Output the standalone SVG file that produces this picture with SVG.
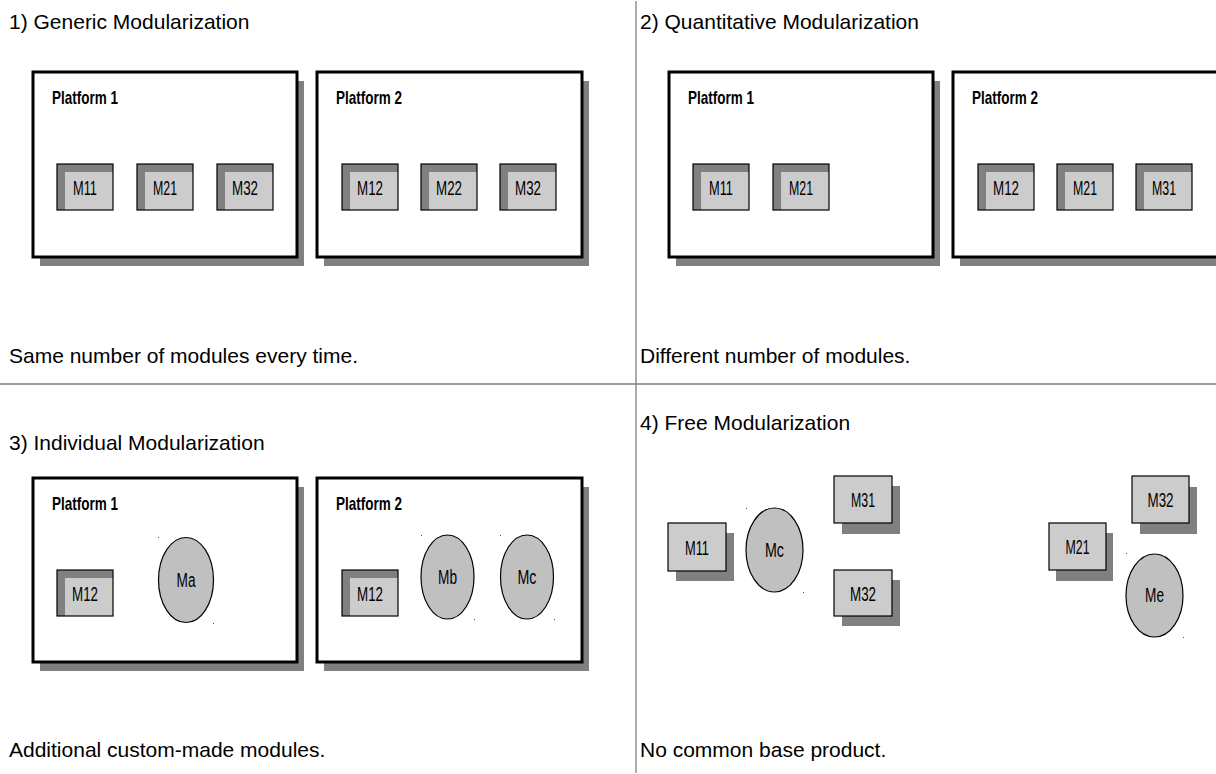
<svg xmlns="http://www.w3.org/2000/svg" width="1216" height="774" viewBox="0 0 1216 774">
  <style>
    .title { font-family: "Liberation Sans", Arial, sans-serif; font-size: 21px; fill: #000; }
    .plabel { font-family: "Liberation Sans", Arial, sans-serif; font-size: 19px; font-weight: bold; fill: #000; }
    .mlabel { font-family: "Liberation Sans", Arial, sans-serif; font-size: 20px; fill: #000; text-anchor: middle; }
    .divider { stroke: #808080; stroke-width: 1.3; fill: none; }
    .pbox { fill: #fff; stroke: #000; stroke-width: 3; }
    .shadow { fill: #808080; stroke: none; }
    .mdark { fill: #808080; stroke: none; }
    .mlight { fill: #cccccc; stroke: none; }
    .mline { fill: none; stroke: #000; stroke-width: 1.2; }
    .fbox { fill: #cccccc; stroke: #000; stroke-width: 1.2; }
    .ell { fill: #c0c0c0; stroke: #000; stroke-width: 1.2; }
    .dot { fill: #555; }
  </style>
  <defs>
    <!-- module embedded in a platform: dark frame with light face -->
    <g id="mod">
      <rect class="mdark" x="0" y="0" width="56" height="46"/>
      <rect class="mlight" x="8" y="8" width="48" height="38"/>
      <rect class="mline" x="0" y="0" width="56" height="46"/>
    </g>
  </defs>

  <rect x="0" y="0" width="1216" height="774" fill="#fff"/>

  <!-- quadrant dividers -->
  <g id="dividers">
    <line class="divider" x1="636" y1="1" x2="636" y2="773"/>
    <line class="divider" x1="0" y1="384" x2="1216" y2="384"/>
  </g>

  <!-- headings and captions -->
  <g id="texts">
    <text class="title" x="9" y="29">1) Generic Modularization</text>
    <text class="title" x="640" y="29">2) Quantitative Modularization</text>
    <text class="title" x="9" y="450">3) Individual Modularization</text>
    <text class="title" x="640" y="430">4) Free Modularization</text>
    <text class="title" x="9" y="363">Same number of modules every time.</text>
    <text class="title" x="640" y="363">Different number of modules.</text>
    <text class="title" x="9" y="757">Additional custom-made modules.</text>
    <text class="title" x="640" y="757">No common base product.</text>
  </g>

  <!-- 1) generic -->
  <g id="g1-platform1">
    <rect class="shadow" x="40" y="81" width="264" height="185"/>
    <rect class="pbox" x="33" y="72" width="264" height="185"/>
    <text class="plabel" x="52" y="104" textLength="66" lengthAdjust="spacingAndGlyphs">Platform 1</text>
    <use href="#mod" x="57" y="164"/><text class="mlabel" x="85" y="195" textLength="24" lengthAdjust="spacingAndGlyphs">M11</text>
    <use href="#mod" x="137" y="164"/><text class="mlabel" x="165" y="195" textLength="24" lengthAdjust="spacingAndGlyphs">M21</text>
    <use href="#mod" x="217" y="164"/><text class="mlabel" x="245" y="195" textLength="26" lengthAdjust="spacingAndGlyphs">M32</text>
  </g>
  <g id="g1-platform2">
    <rect class="shadow" x="324" y="81" width="265" height="185"/>
    <rect class="pbox" x="317" y="72" width="265" height="185"/>
    <text class="plabel" x="336" y="104" textLength="66" lengthAdjust="spacingAndGlyphs">Platform 2</text>
    <use href="#mod" x="342" y="164"/><text class="mlabel" x="370" y="195" textLength="26" lengthAdjust="spacingAndGlyphs">M12</text>
    <use href="#mod" x="421" y="164"/><text class="mlabel" x="449" y="195" textLength="26" lengthAdjust="spacingAndGlyphs">M22</text>
    <use href="#mod" x="500" y="164"/><text class="mlabel" x="528" y="195" textLength="26" lengthAdjust="spacingAndGlyphs">M32</text>
  </g>

  <!-- 2) quantitative -->
  <g id="g2-platform1">
    <rect class="shadow" x="676" y="81" width="264" height="185"/>
    <rect class="pbox" x="669" y="72" width="264" height="185"/>
    <text class="plabel" x="688" y="104" textLength="66" lengthAdjust="spacingAndGlyphs">Platform 1</text>
    <use href="#mod" x="693" y="164"/><text class="mlabel" x="721" y="195" textLength="24" lengthAdjust="spacingAndGlyphs">M11</text>
    <use href="#mod" x="773" y="164"/><text class="mlabel" x="801" y="195" textLength="24" lengthAdjust="spacingAndGlyphs">M21</text>
  </g>
  <g id="g2-platform2">
    <rect class="shadow" x="960" y="81" width="265" height="185"/>
    <rect class="pbox" x="953" y="72" width="265" height="185"/>
    <text class="plabel" x="972" y="104" textLength="66" lengthAdjust="spacingAndGlyphs">Platform 2</text>
    <use href="#mod" x="978" y="164"/><text class="mlabel" x="1006" y="195" textLength="26" lengthAdjust="spacingAndGlyphs">M12</text>
    <use href="#mod" x="1057" y="164"/><text class="mlabel" x="1085" y="195" textLength="24" lengthAdjust="spacingAndGlyphs">M21</text>
    <use href="#mod" x="1136" y="164"/><text class="mlabel" x="1164" y="195" textLength="24" lengthAdjust="spacingAndGlyphs">M31</text>
  </g>

  <!-- 3) individual -->
  <g id="g3-platform1">
    <rect class="shadow" x="40" y="487" width="264" height="184"/>
    <rect class="pbox" x="33" y="478" width="264" height="184"/>
    <text class="plabel" x="52" y="510" textLength="66" lengthAdjust="spacingAndGlyphs">Platform 1</text>
    <use href="#mod" x="57" y="570"/><text class="mlabel" x="85" y="601" textLength="26" lengthAdjust="spacingAndGlyphs">M12</text>
    <ellipse class="ell" cx="186" cy="580" rx="27.5" ry="42.5"/>
    <text class="mlabel" x="186" y="587" textLength="19" lengthAdjust="spacingAndGlyphs">Ma</text>
    <rect class="dot" x="158" y="537" width="1" height="1"/>
    <rect class="dot" x="213" y="623" width="1" height="1"/>
  </g>
  <g id="g3-platform2">
    <rect class="shadow" x="324" y="487" width="265" height="184"/>
    <rect class="pbox" x="317" y="478" width="265" height="184"/>
    <text class="plabel" x="336" y="510" textLength="66" lengthAdjust="spacingAndGlyphs">Platform 2</text>
    <use href="#mod" x="342" y="570"/><text class="mlabel" x="370" y="601" textLength="26" lengthAdjust="spacingAndGlyphs">M12</text>
    <ellipse class="ell" cx="447.5" cy="577" rx="26.5" ry="42"/>
    <text class="mlabel" x="447.5" y="584" textLength="19" lengthAdjust="spacingAndGlyphs">Mb</text>
    <ellipse class="ell" cx="527" cy="577" rx="26.5" ry="42"/>
    <text class="mlabel" x="527" y="584" textLength="19" lengthAdjust="spacingAndGlyphs">Mc</text>
    <rect class="dot" x="421" y="535" width="1" height="1"/>
    <rect class="dot" x="474" y="619" width="1" height="1"/>
    <rect class="dot" x="500" y="535" width="1" height="1"/>
    <rect class="dot" x="554" y="619" width="1" height="1"/>
  </g>

  <!-- 4) free -->
  <g id="g4-m11">
    <rect class="shadow" x="676" y="533" width="58" height="48"/>
    <rect class="fbox" x="668" y="523" width="58" height="48"/>
    <text class="mlabel" x="697" y="555" textLength="24" lengthAdjust="spacingAndGlyphs">M11</text>
  </g>
  <g id="g4-mc">
    <ellipse class="ell" cx="774.5" cy="550" rx="28.5" ry="42"/>
    <text class="mlabel" x="774.5" y="557" textLength="19" lengthAdjust="spacingAndGlyphs">Mc</text>
    <rect class="dot" x="746" y="508" width="1" height="1"/>
    <rect class="dot" x="803" y="592" width="1" height="1"/>
  </g>
  <g id="g4-m31">
    <rect class="shadow" x="842" y="486" width="58" height="48"/>
    <rect class="fbox" x="834" y="476" width="58" height="47"/>
    <text class="mlabel" x="863" y="507" textLength="24" lengthAdjust="spacingAndGlyphs">M31</text>
  </g>
  <g id="g4-m32a">
    <rect class="shadow" x="842" y="580" width="58" height="46"/>
    <rect class="fbox" x="834" y="570" width="58" height="46"/>
    <text class="mlabel" x="863" y="601" textLength="26" lengthAdjust="spacingAndGlyphs">M32</text>
  </g>
  <g id="g4-m21">
    <rect class="shadow" x="1056" y="533" width="57" height="48"/>
    <rect class="fbox" x="1049" y="523" width="57" height="47"/>
    <text class="mlabel" x="1077.5" y="554" textLength="24" lengthAdjust="spacingAndGlyphs">M21</text>
  </g>
  <g id="g4-m32b">
    <rect class="shadow" x="1140" y="487" width="57" height="47"/>
    <rect class="fbox" x="1132" y="476" width="57" height="47"/>
    <text class="mlabel" x="1160.5" y="507" textLength="26" lengthAdjust="spacingAndGlyphs">M32</text>
  </g>
  <g id="g4-me">
    <ellipse class="ell" cx="1154.5" cy="595.5" rx="28.5" ry="41.5"/>
    <text class="mlabel" x="1154.5" y="602" textLength="19" lengthAdjust="spacingAndGlyphs">Me</text>
    <rect class="dot" x="1126" y="553" width="1" height="1"/>
    <rect class="dot" x="1183" y="637" width="1" height="1"/>
  </g>
</svg>
